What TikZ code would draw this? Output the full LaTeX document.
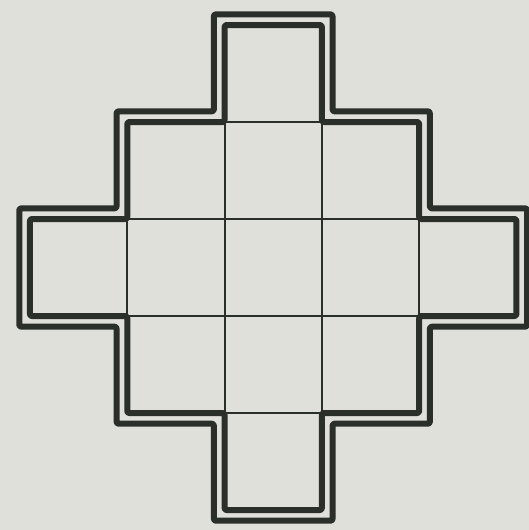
\documentclass[tikz,border=0pt]{standalone}
\usepackage{tikz}
\definecolor{inkdark}{HTML}{2A2F2A}
\definecolor{paper}{HTML}{E0E0DB}

\begin{document}
\begin{tikzpicture}[x=97.3pt,y=97pt,
    gridline/.style={inkdark,line width=2pt},
    rim/.style={inkdark,line join=round,rounded corners=2pt}]
  \fill[paper] (-0.308,-0.206) rectangle (5.128,5.258);
  \useasboundingbox (-0.308,-0.206) rectangle (5.128,5.258);
  % thin grid of the middle square
  \foreach \i in {1,...,4} {
    \draw[gridline] (\i,1) -- (\i,4);
    \draw[gridline] (1,\i) -- (4,\i);
  }
  % double outline of the stepped cross
  \foreach \d/\w in {0/6pt,0.11/6pt}
    \draw[rim,line width=\w]
      (2-\d,-\d) -- (3+\d,-\d) -- (3+\d,1-\d) -- (4+\d,1-\d) -- (4+\d,2-\d)
      -- (5+\d,2-\d) -- (5+\d,3+\d) -- (4+\d,3+\d) -- (4+\d,4+\d) -- (3+\d,4+\d)
      -- (3+\d,5+\d) -- (2-\d,5+\d) -- (2-\d,4+\d) -- (1-\d,4+\d) -- (1-\d,3+\d)
      -- (-\d,3+\d) -- (-\d,2-\d) -- (1-\d,2-\d) -- (1-\d,1-\d) -- (2-\d,1-\d) -- cycle;
\end{tikzpicture}
\end{document}
